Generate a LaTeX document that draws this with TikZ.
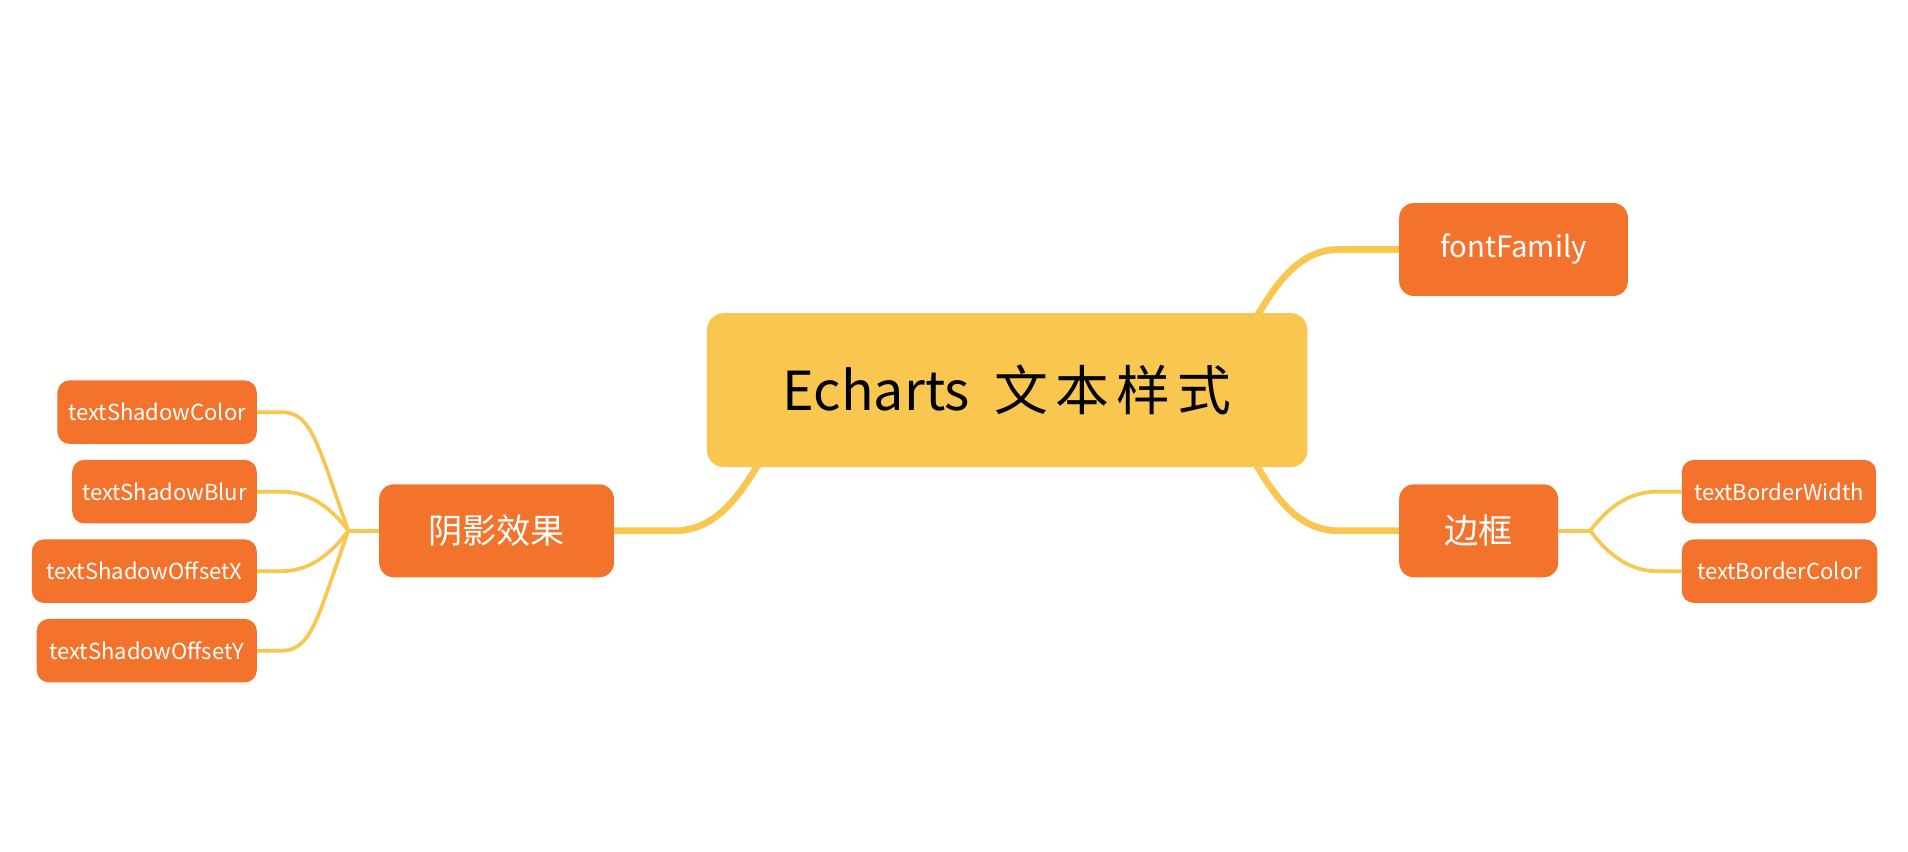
\documentclass[tikz,border=0pt]{standalone}
\usepackage{fontspec}
\newfontfamily\cjk{Noto Sans CJK SC}
\usetikzlibrary{backgrounds,calc}
\definecolor{yel}{HTML}{F9C74F}
\definecolor{org}{HTML}{F3722C}
\pgfdeclarelayer{canvas}
\pgfsetlayers{canvas,background,main}
\begin{document}
\begin{tikzpicture}[x=1pt,y=-1pt,
  rootbox/.style={fill=yel, text=black, rounded corners=14pt, inner sep=0pt,
    minimum width=491pt, minimum height=126pt, font=\cjk\fontsize{44}{50}\selectfont},
  midbox/.style={fill=org, text=white, rounded corners=12pt, inner sep=0pt,
    minimum height=76pt, font=\cjk\fontsize{28}{32}\selectfont},
  leafbox/.style={fill=org, text=white, rounded corners=10pt, inner sep=0pt,
    minimum height=52pt, font=\cjk\fontsize{18}{20}\selectfont},
  mainline/.style={draw=yel, line width=5.5pt, line cap=round},
  subline/.style={draw=yel, line width=3pt},
]
\begin{pgfonlayer}{canvas}
\fill[white] (0,0) rectangle (1560,695.8);
\end{pgfonlayer}
\useasboundingbox (0,0) rectangle (1560,695.8);

\node[rootbox] (c) at (823.5,319) {Echarts\hspace{20pt}文\hspace{6pt}本\hspace{6pt}样\hspace{6pt}式};
\node[midbox, minimum width=187pt, font=\cjk\fontsize{24}{28}\selectfont] (ff) at (1237.5,204) {fontFamily};
\node[midbox, minimum width=130pt] (bk) at (1209,434) {边框};
\node[midbox, minimum width=192pt] (yy) at (406,434) {阴影效果};

\node[leafbox, minimum width=163pt] (tsc) at (128.5,337) {textShadowColor};
\node[leafbox, minimum width=151pt] (tsb) at (134.5,402) {textShadowBlur};
\node[leafbox, minimum width=184pt] (tsx) at (118,467) {textShadowOffsetX};
\node[leafbox, minimum width=180pt] (tsy) at (120,532) {textShadowOffsetY};
\node[leafbox, minimum width=159pt] (tbw) at (1454.5,402) {textBorderWidth};
\node[leafbox, minimum width=160pt] (tbc) at (1455,467) {textBorderColor};

\coordinate (J) at ($(yy.west)+(-25,0)$);
\coordinate (K) at ($(bk.east)+(26,0)$);

\begin{pgfonlayer}{background}
\draw[mainline] ($(c.east)+(-59,-29)$) .. controls +(25,-45) and +(-40,0) .. ($(ff.west)+(-49,0)$) -- (ff.west);
\draw[mainline] ($(c.east)+(-59,31)$) .. controls +(25,45) and +(-40,0) .. ($(bk.west)+(-49,0)$) -- (bk.west);
\draw[mainline] ($(c.west)+(59,31)$) .. controls +(-25,45) and +(40,0) .. ($(yy.east)+(49,0)$) -- (yy.east);

\draw[subline] (yy.west) -- (J);
\draw[subline] (J) .. controls +(-25,-70) and +(25,0) .. ($(tsc.east)+(20,0)$) -- (tsc.east);
\draw[subline] (J) .. controls +(-15,-20) and +(22,0) .. ($(tsb.east)+(20,0)$) -- (tsb.east);
\draw[subline] (J) .. controls +(-15,20) and +(22,0) .. ($(tsx.east)+(20,0)$) -- (tsx.east);
\draw[subline] (J) .. controls +(-25,70) and +(25,0) .. ($(tsy.east)+(20,0)$) -- (tsy.east);

\draw[subline] (bk.east) -- (K);
\draw[subline] (K) .. controls +(15,-20) and +(-22,0) .. ($(tbw.west)+(-20,0)$) -- (tbw.west);
\draw[subline] (K) .. controls +(15,20) and +(-22,0) .. ($(tbc.west)+(-20,0)$) -- (tbc.west);
\end{pgfonlayer}
\end{tikzpicture}
\end{document}
